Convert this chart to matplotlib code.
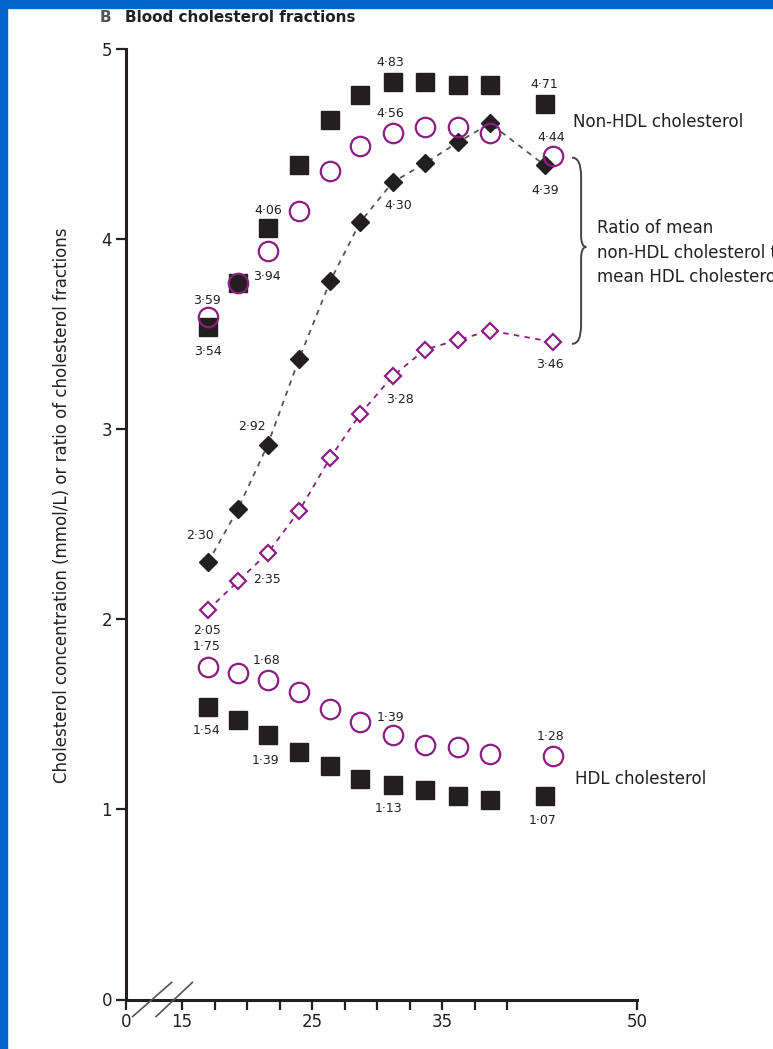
import numpy as np
import matplotlib
matplotlib.use('Agg')
import matplotlib.pyplot as plt
from matplotlib.path import Path
from matplotlib.patches import PathPatch, Rectangle

# x positions (group means); the last group differs slightly between sexes
x_men = [17.0, 19.3, 21.6, 24.0, 26.4, 28.7, 31.2, 33.7, 36.2, 38.7, 42.9]
x_women = [17.0, 19.3, 21.6, 24.0, 26.4, 28.7, 31.2, 33.7, 36.2, 38.7, 43.5]

nonhdl_men = [3.54, 3.77, 4.06, 4.39, 4.63, 4.76, 4.83, 4.83, 4.81, 4.81, 4.71]
nonhdl_women = [3.59, 3.77, 3.94, 4.15, 4.36, 4.49, 4.56, 4.59, 4.59, 4.56, 4.44]
ratio_men = [2.30, 2.58, 2.92, 3.37, 3.78, 4.09, 4.30, 4.40, 4.51, 4.61, 4.39]
ratio_women = [2.05, 2.20, 2.35, 2.57, 2.85, 3.08, 3.28, 3.42, 3.47, 3.52, 3.46]
hdl_men = [1.54, 1.47, 1.39, 1.30, 1.23, 1.16, 1.13, 1.10, 1.07, 1.05, 1.07]
hdl_women = [1.75, 1.72, 1.68, 1.62, 1.53, 1.46, 1.39, 1.34, 1.33, 1.29, 1.28]

x_ticks = [15, 17.5, 20, 22.5, 25, 27.5, 30, 32.5, 35, 37.5, 40, 50]
x_ticklabels = ['15', '', '', '', '25', '', '', '', '35', '', '', '50']
y_ticks = [0, 1, 2, 3, 4, 5]

DARK = '#231F20'
PURPLE = '#8C1D82'
FONT = ['Liberation Sans Narrow', 'DejaVu Sans']
X_ZERO = 15 - 56 / 13.0  # where "0" sits on the broken axis

plt.rcParams['font.family'] = FONT

fig = plt.figure(figsize=(7.73, 10.49), dpi=100)
ax = fig.add_axes([126 / 773, 49.5 / 1049, 511 / 773, 950.2 / 1049])

# blue frame of the slide
fig.patches.append(Rectangle((0, 1 - 8 / 1049), 1, 8 / 1049, transform=fig.transFigure,
                             color='#0066CC', zorder=0))
fig.patches.append(Rectangle((0, 0), 7 / 773, 1, transform=fig.transFigure,
                             color='#0066CC', zorder=0))

# ratio lines
ax.plot(x_men, ratio_men, ls=(0, (3, 3)), color='#555555', lw=1.3, marker='D', ms=9,
        mfc=DARK, mec=DARK, zorder=3, clip_on=False)
ax.plot(x_women, ratio_women, ls=(0, (3, 3)), color=PURPLE, lw=1.3, marker='D', ms=8.5,
        mfc='white', mec=PURPLE, mew=1.6, zorder=3, clip_on=False)

# fractions
for xs, ys in [(x_men, nonhdl_men), (x_men, hdl_men)]:
    ax.plot(xs, ys, ls='none', marker='s', ms=12.5, mfc=DARK, mec=DARK, zorder=4, clip_on=False)
for xs, ys in [(x_women, nonhdl_women), (x_women, hdl_women)]:
    ax.plot(xs, ys, ls='none', marker='o', ms=14, mfc='none', mec=PURPLE, mew=1.6, zorder=5,
            clip_on=False)

# value labels: (x list, y list, index, dx px, dy px)
labels = [
    (x_men, nonhdl_men, 6, -2, 19), (x_men, nonhdl_men, 10, 0, 20),
    (x_men, nonhdl_men, 2, 0, 17), (x_men, nonhdl_men, 0, 0, -25),
    (x_women, nonhdl_women, 6, -2, 19), (x_women, nonhdl_women, 10, -1, 18),
    (x_women, nonhdl_women, 2, -1, -26), (x_women, nonhdl_women, 0, -1, 17),
    (x_men, ratio_men, 6, 6, -23), (x_men, ratio_men, 10, 0, -25),
    (x_men, ratio_men, 2, -16, 18), (x_men, ratio_men, 0, -8, 27),
    (x_women, ratio_women, 6, 7, -23), (x_women, ratio_women, 10, -3, -23),
    (x_women, ratio_women, 2, -1, -27), (x_women, ratio_women, 0, -1, -21),
    (x_women, hdl_women, 0, -1, 20), (x_women, hdl_women, 2, -1, 20),
    (x_women, hdl_women, 6, -2, 18), (x_women, hdl_women, 10, -2, 20),
    (x_men, hdl_men, 0, -1, -24), (x_men, hdl_men, 2, -2, -25),
    (x_men, hdl_men, 6, -4, -24), (x_men, hdl_men, 10, -2, -24),
]
for xs, ys, i, dx, dy in labels:
    ax.annotate(f'{ys[i]:.2f}'.replace('.', '\u00b7'), (xs[i], ys[i]), xytext=(dx, dy),
                textcoords='offset pixels', ha='center', va='center', fontsize=9,
                color=DARK, zorder=6, annotation_clip=False)

# series names
ax.text(45.1, 4.62, 'Non-HDL cholesterol', fontsize=12, color=DARK, va='center', ha='left',
        clip_on=False)
ax.text(45.2, 1.16, 'HDL cholesterol', fontsize=12, color=DARK, va='center', ha='left',
        clip_on=False)
# runs off the right edge, as in the original slide
ax.text(46.9, 3.93, 'Ratio of mean\nnon-HDL cholesterol to\nmean HDL cholesterol', fontsize=12,
        color=DARK, va='center', ha='left', linespacing=1.45, clip_on=False)

# curly brace
verts = [(45.0, 4.43), (45.7, 4.43), (45.7, 4.33), (45.7, 4.02), (45.7, 3.96), (46.1, 3.96),
         (45.7, 3.96), (45.7, 3.90), (45.7, 3.55), (45.7, 3.45), (45.0, 3.45)]
codes = [Path.MOVETO, Path.CURVE3, Path.CURVE3, Path.LINETO, Path.CURVE3, Path.CURVE3,
         Path.CURVE3, Path.CURVE3, Path.LINETO, Path.CURVE3, Path.CURVE3]
ax.add_patch(PathPatch(Path(verts, codes), fc='none', ec='#444444', lw=1.4, clip_on=False))

# axis break marks
ax.plot([11.2, 14.2], [-0.09, 0.09], color='#555555', lw=1.2, clip_on=False, zorder=6)
ax.plot([13.0, 15.8], [-0.09, 0.09], color='#555555', lw=1.2, clip_on=False, zorder=6)

ax.set_xlim(X_ZERO, 50)
ax.set_ylim(0, 5)
ax.set_xticks([X_ZERO] + x_ticks)
ax.set_xticklabels(['0'] + x_ticklabels)
ax.set_yticks(y_ticks)
ax.set_yticklabels([str(v) for v in y_ticks])
for s in ['top', 'right']:
    ax.spines[s].set_visible(False)
for s in ['left', 'bottom']:
    ax.spines[s].set_linewidth(2.2)
    ax.spines[s].set_color(DARK)
ax.tick_params(length=7, width=1.6, color=DARK, labelsize=12, labelcolor=DARK, pad=3)

fig.text(62 / 773, 1 - 505 / 1049,
         'Cholesterol concentration (mmol/L) or ratio of cholesterol fractions',
         rotation=90, ha='center', va='center', fontsize=12, color=DARK)
fig.text(100 / 773, 1 - 17 / 1049, 'B', fontsize=11, color='#555555', va='center',
         fontweight='bold')
fig.text(125 / 773, 1 - 17 / 1049, 'Blood cholesterol fractions', fontsize=11, color=DARK,
         va='center', fontweight='bold')

fig.savefig('out.png', dpi=100)
